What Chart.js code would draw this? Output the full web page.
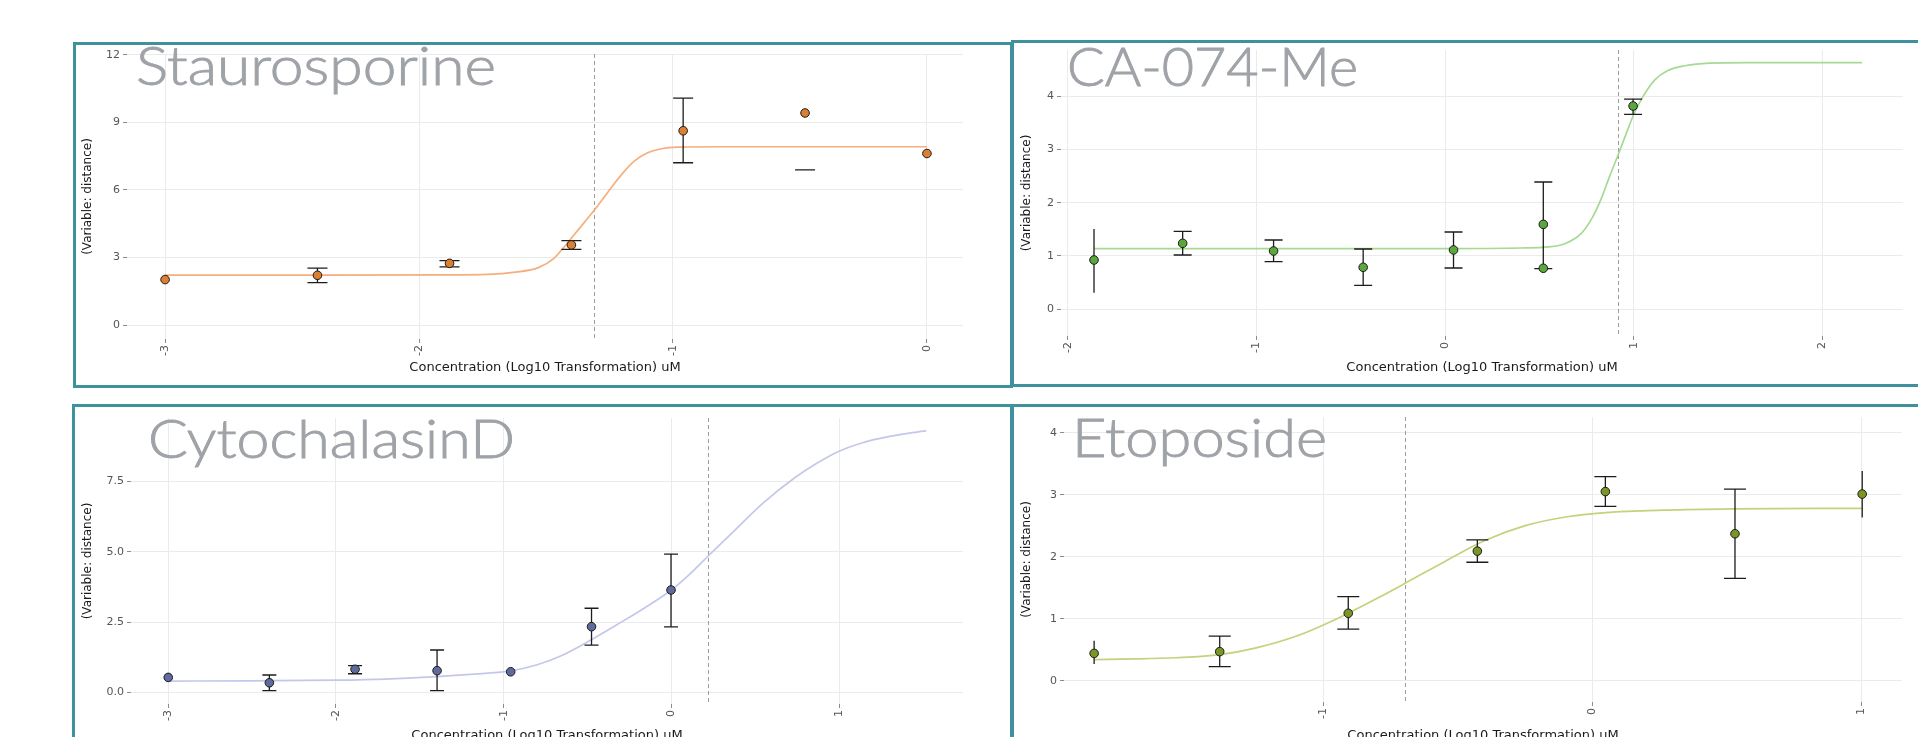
<!DOCTYPE html>
<html>
<head>
<meta charset="utf-8">
<script src="https://cdn.jsdelivr.net/npm/chart.js@4.4.1/dist/chart.umd.min.js"></script>
<style>
  html, body { margin: 0; padding: 0; background: #fff; }
  body { width: 1918px; height: 737px; overflow: hidden; position: relative; }
  .panel { position: absolute; box-sizing: border-box; border: 3px solid #3f919e; background: #fff; overflow: hidden; }
  .panel canvas { position: absolute; left: 0; top: 0; }
</style>
</head>
<body>
<div class="panel" style="left:73px;top:42px;width:940px;height:346px"><canvas id="stauro"></canvas></div>
<div class="panel" style="left:1011px;top:40px;width:919px;height:347px"><canvas id="ca"></canvas></div>
<div class="panel" style="left:72px;top:404px;width:941px;height:356px"><canvas id="cyto"></canvas></div>
<div class="panel" style="left:1011px;top:404px;width:919px;height:356px"><canvas id="eto"></canvas></div>
<script>
// Staurosporine
const stauroX = [-3.0, -2.40, -1.88, -1.40, -0.96, -0.48, 0.0];
const stauroY = [2.02, 2.21, 2.74, 3.56, 8.63, 9.42, 7.62];
const stauroLow = [null, 1.88, 2.58, 3.36, 7.21, 6.89, null];
const stauroHigh = [null, 2.53, 2.86, 3.75, 10.08, 6.89, null];
const stauroCurveX = [-3.0, -2.4, -1.9, -1.73, -1.62, -1.53, -1.47, -1.43, -1.39, -1.35, -1.31, -1.27, -1.23, -1.19, -1.15, -1.10, -1.05, -0.98, -0.8, -0.5, 0.0];
const stauroCurveY = [2.22, 2.22, 2.23, 2.25, 2.35, 2.55, 2.95, 3.45, 4.0, 4.55, 5.1, 5.7, 6.3, 6.85, 7.3, 7.65, 7.82, 7.9, 7.92, 7.92, 7.92];
const stauroEC50 = -1.31;
const stauroXTicks = [-3, -2, -1, 0];
const stauroYTicks = [0, 3, 6, 9, 12];
const stauroYLabels = ['0', '3', '6', '9', '12'];

// CA-074-Me
const caX = [-1.862, -1.392, -0.910, -0.435, 0.044, 0.52, 0.52, 0.996];
const caY = [0.925, 1.238, 1.094, 0.788, 1.113, 1.594, 0.77, 3.814];
const caLow = [0.31, 1.019, 0.894, 0.45, 0.775, 0.762, null, 3.658];
const caHigh = [1.506, 1.463, 1.30, 1.131, 1.45, 2.388, null, 3.945];
const caCurveX = [-1.86, -1.0, 0.0, 0.4, 0.55, 0.64, 0.72, 0.78, 0.83, 0.87, 0.916, 0.96, 1.0, 1.05, 1.11, 1.18, 1.27, 1.4, 1.6, 1.9, 2.21];
const caCurveY = [1.14, 1.14, 1.14, 1.15, 1.17, 1.24, 1.42, 1.72, 2.10, 2.48, 2.89, 3.30, 3.66, 4.0, 4.3, 4.48, 4.57, 4.62, 4.63, 4.63, 4.63];
const caEC50 = 0.916;
const caXTicks = [-2, -1, 0, 1, 2];
const caYTicks = [0, 1, 2, 3, 4];
const caYLabels = ['0', '1', '2', '3', '4'];

// CytochalasinD
const cytoX = [-3.0, -2.397, -1.886, -1.397, -0.958, -0.476, -0.002];
const cytoY = [0.53, 0.34, 0.82, 0.77, 0.73, 2.335, 3.64];
const cytoLow = [0.40, 0.06, 0.66, 0.06, null, 1.68, 2.33];
const cytoHigh = [0.66, 0.615, 0.95, 1.505, null, 2.99, 4.92];
const cytoCurveX = [-3.0, -2.5, -2.0, -1.7, -1.4, -1.2, -0.96, -0.8, -0.65, -0.48, -0.32, -0.16, 0.0, 0.1, 0.22, 0.37, 0.55, 0.74, 0.86, 0.99, 1.14, 1.28, 1.52];
const cytoCurveY = [0.40, 0.41, 0.43, 0.47, 0.56, 0.64, 0.76, 0.98, 1.32, 1.86, 2.42, 3.0, 3.64, 4.15, 4.85, 5.72, 6.75, 7.65, 8.12, 8.55, 8.88, 9.08, 9.31];
const cytoEC50 = 0.22;
const cytoXTicks = [-3, -2, -1, 0, 1];
const cytoYTicks = [0, 2.5, 5, 7.5];
const cytoYLabels = ['0.0', '2.5', '5.0', '7.5'];

// Etoposide
const etoX = [-1.853, -1.386, -0.908, -0.428, 0.048, 0.53, 1.003];
const etoY = [0.44, 0.468, 1.087, 2.09, 3.05, 2.37, 3.01];
const etoLow = [0.27, 0.226, 0.83, 1.91, 2.81, 1.65, 2.63];
const etoHigh = [0.645, 0.72, 1.355, 2.27, 3.29, 3.09, 3.38];
const etoCurveX = [-1.853, -1.7, -1.55, -1.386, -1.25, -1.1, -0.95, -0.8, -0.697, -0.55, -0.4, -0.25, -0.1, 0.05, 0.27, 0.525, 1.003];
const etoCurveY = [0.34, 0.35, 0.37, 0.42, 0.53, 0.72, 1.0, 1.33, 1.57, 1.92, 2.26, 2.50, 2.64, 2.71, 2.75, 2.77, 2.78];
const etoEC50 = -0.697;
const etoXTicks = [-1, 0, 1];
const etoYTicks = [0, 1, 2, 3, 4];
const etoYLabels = ['0', '1', '2', '3', '4'];

const xTitle = 'Concentration (Log10 Transformation) uM';
const yTitle = '(Variable: distance)';

// dashed EC50 line, error bars under the points, big grey name on top
const panelDecor = {
  id: 'panelDecor',
  beforeDatasetsDraw(chart, args, o) {
    const { ctx, chartArea: a, scales: { x } } = chart;
    const px = Math.round(x.getPixelForValue(o.ec50)) + 0.5;
    ctx.save();
    ctx.strokeStyle = '#9c9c9c';
    ctx.lineWidth = 1;
    ctx.setLineDash([4, 3]);
    ctx.beginPath();
    ctx.moveTo(px, a.top);
    ctx.lineTo(px, a.bottom);
    ctx.stroke();
    ctx.restore();
  },
  beforeDatasetDraw(chart, args, o) {
    if (args.index !== 0) return;
    const { ctx, scales: { x, y } } = chart;
    const w = o.cap;
    ctx.save();
    ctx.strokeStyle = '#1c1c1c';
    ctx.lineWidth = 1.3;
    o.xs.forEach((xv, i) => {
      if (o.low[i] == null) return;
      const px = x.getPixelForValue(xv);
      const pl = y.getPixelForValue(o.low[i]);
      const ph = y.getPixelForValue(o.high[i]);
      ctx.beginPath();
      ctx.moveTo(px, pl);
      ctx.lineTo(px, ph);
      if (!o.noCap.includes(i)) {
        ctx.moveTo(px - w, pl); ctx.lineTo(px + w, pl);
        ctx.moveTo(px - w, ph); ctx.lineTo(px + w, ph);
      }
      ctx.stroke();
    });
    ctx.restore();
  },
  afterDraw(chart, args, o) {
    const ctx = chart.ctx;
    ctx.save();
    ctx.font = '300 53px Lato, Roboto, sans-serif';
    ctx.fillStyle = '#9fa3a8';
    ctx.strokeStyle = '#9fa3a8';
    ctx.lineWidth = 0.9;
    ctx.textBaseline = 'alphabetic';
    const mw = ctx.measureText(o.name).width;
    ctx.translate(o.nameX, o.nameY);
    ctx.scale(o.nameW / mw, 1);
    ctx.fillText(o.name, 0, 0);
    ctx.strokeText(o.name, 0, 0);
    ctx.restore();
  }
};

function makePanel(id, d) {
  const canvas = document.getElementById(id);
  canvas.width = d.w;
  canvas.height = d.h;
  canvas.style.width = d.w + 'px';
  canvas.style.height = d.h + 'px';
  const tickFont = { family: '"DejaVu Sans", sans-serif', size: 11 };

  return new Chart(canvas, {
    type: 'scatter',
    data: {
      datasets: [{
        data: d.xs.map((v, i) => ({ x: v, y: d.ys[i] })),
        pointRadius: 4.3,
        pointBackgroundColor: d.pointColor,
        pointBorderColor: '#1a1a1a',
        pointBorderWidth: 1,
        showLine: false
      }, {
        data: d.cx.map((v, i) => ({ x: v, y: d.cy[i] })),
        showLine: true,
        borderColor: d.lineColor,
        borderWidth: 1.7,
        pointRadius: 0,
        cubicInterpolationMode: 'monotone'
      }]
    },
    options: {
      responsive: false,
      animation: false,
      events: [],
      layout: { padding: { left: 0, bottom: 0, top: d.area.t, right: d.w - d.area.r } },
      scales: {
        x: {
          type: 'linear',
          min: d.xMin,
          max: d.xMax,
          afterBuildTicks: s => { s.ticks = d.xTicks.map(v => ({ value: v })); },
          afterFit: s => { s.height = d.h - d.area.b; s.paddingLeft = 0; s.paddingRight = 0; },
          grid: { color: '#ebebeb', tickColor: '#8c8c8c', tickLength: 4 },
          border: { display: false },
          ticks: {
            autoSkip: false, minRotation: 90, maxRotation: 90, padding: 2,
            color: '#555', font: tickFont,
            callback: v => String(v)
          },
          title: {
            display: true, text: xTitle, color: '#1a1a1a',
            font: { family: '"DejaVu Sans", sans-serif', size: 13 },
            padding: { top: 0, bottom: d.xTitlePad }
          }
        },
        y: {
          type: 'linear',
          min: d.yMin,
          max: d.yMax,
          afterBuildTicks: s => { s.ticks = d.yTicks.map(v => ({ value: v })); },
          afterFit: s => { s.width = d.area.l; s.paddingTop = 0; s.paddingBottom = 0; },
          grid: { color: '#ebebeb', tickColor: '#8c8c8c', tickLength: 4 },
          border: { display: false },
          ticks: {
            padding: 3, color: '#555', font: tickFont,
            callback: (v, i) => d.yLabels[i]
          },
          title: {
            display: true, text: yTitle, color: '#1a1a1a',
            font: { family: '"DejaVu Sans", sans-serif', size: 12 },
            padding: { top: d.yTitlePad, bottom: 0 }
          }
        }
      },
      plugins: {
        legend: { display: false },
        tooltip: { enabled: false },
        panelDecor: {
          ec50: d.ec50, xs: d.xs, low: d.low, high: d.high, cap: d.cap, noCap: d.noCap,
          name: d.name, nameX: d.nameX, nameY: d.nameY, nameW: d.nameW
        }
      }
    },
    plugins: [panelDecor]
  });
}

makePanel('stauro', {
  w: 934, h: 340, area: { l: 51, r: 887, t: 9, b: 294 },
  xMin: -3.150, xMax: 0.142, yMin: -0.62, yMax: 12.04,
  xTicks: stauroXTicks, yTicks: stauroYTicks, yLabels: stauroYLabels,
  xs: stauroX, ys: stauroY, low: stauroLow, high: stauroHigh, cap: 10, noCap: [],
  cx: stauroCurveX, cy: stauroCurveY, ec50: stauroEC50,
  pointColor: '#dc7f30', lineColor: '#f5ae7c',
  xTitlePad: 10, yTitlePad: 5,
  name: 'Staurosporine', nameX: 60, nameY: 40, nameW: 360
});

makePanel('ca', {
  w: 913, h: 341, area: { l: 47, r: 889, t: 7, b: 293 },
  xMin: -2.037, xMax: 2.427, yMin: -0.501, yMax: 4.865,
  xTicks: caXTicks, yTicks: caYTicks, yLabels: caYLabels,
  xs: caX, ys: caY, low: caLow, high: caHigh, cap: 9, noCap: [0],
  cx: caCurveX, cy: caCurveY, ec50: caEC50,
  pointColor: '#5aa83c', lineColor: '#a6da92',
  xTitlePad: 9, yTitlePad: 6,
  name: 'CA-074-Me', nameX: 53, nameY: 43, nameW: 291
});

makePanel('cyto', {
  w: 935, h: 350, area: { l: 56, r: 888, t: 11, b: 297 },
  xMin: -3.222, xMax: 1.739, yMin: -0.416, yMax: 9.76,
  xTicks: cytoXTicks, yTicks: cytoYTicks, yLabels: cytoYLabels,
  xs: cytoX, ys: cytoY, low: cytoLow, high: cytoHigh, cap: 7, noCap: [0],
  cx: cytoCurveX, cy: cytoCurveY, ec50: cytoEC50,
  pointColor: '#5f6b9e', lineColor: '#c4c7ea',
  xTitlePad: 14, yTitlePad: 6,
  name: 'CytochalasinD', nameX: 73, nameY: 51, nameW: 367
});

makePanel('eto', {
  w: 913, h: 350, area: { l: 50, r: 888, t: 10, b: 295 },
  xMin: -1.965, xMax: 1.151, yMin: -0.344, yMax: 4.253,
  xTicks: etoXTicks, yTicks: etoYTicks, yLabels: etoYLabels,
  xs: etoX, ys: etoY, low: etoLow, high: etoHigh, cap: 11, noCap: [0, 6],
  cx: etoCurveX, cy: etoCurveY, ec50: etoEC50,
  pointColor: '#7a9624', lineColor: '#bfd47c',
  xTitlePad: 14, yTitlePad: 6,
  name: 'Etoposide', nameX: 58, nameY: 50, nameW: 255
});
</script>
</body>
</html>
